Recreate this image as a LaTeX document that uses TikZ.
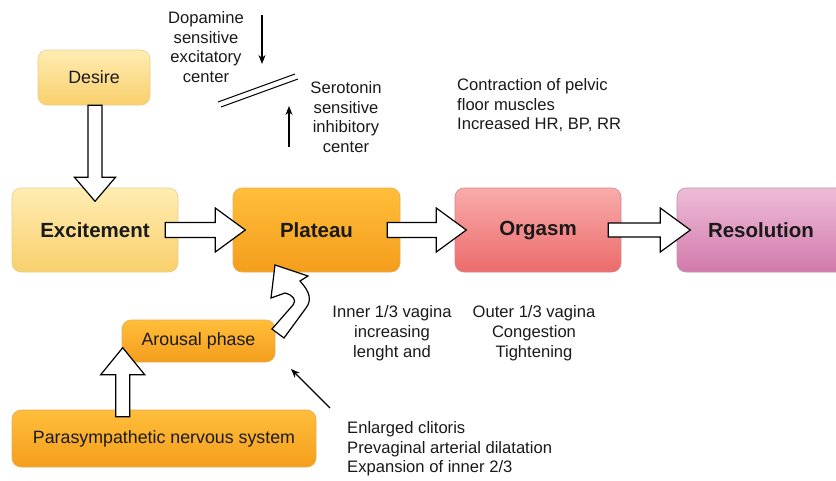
\documentclass[tikz,border=0pt]{standalone}
\usepackage{fontspec}
\setmainfont{Liberation Sans}
\usetikzlibrary{arrows.meta,calc}
\definecolor{txt}{HTML}{1A1A1A}
\tikzset{
  phase/.style={rounded corners=9pt, draw=#1, line width=0.6pt, inner sep=0pt, text=txt},
  yel/.style={phase=yelB, top color=yelT, bottom color=yelM},
  org/.style={phase=orgB, top color=orgT, bottom color=orgM},
  red/.style={phase=redB, top color=redT, bottom color=redM},
  pur/.style={phase=purB, top color=purT, bottom color=purM},
  big/.style={font=\fontsize{20.5}{23}\selectfont\bfseries},
  reg/.style={font=\fontsize{17.8}{20}\selectfont},
  small/.style={font=\fontsize{16.6}{19.8}\selectfont, text=txt, inner sep=0pt},
  blkline/.style={draw=black, fill=white, line width=1.2pt, line join=miter},
  thin/.style={-{Stealth[length=9pt,width=7pt]}, line width=1.1pt, black},
}
% #1 start, #2 angle, #3 length, #4 shaft half width, #5 head half width, #6 head length
\newcommand{\blockarrow}[6]{%
  \draw[blkline, shift={#1}, rotate=#2]
    (0,-#4) -- ({#3-#6},-#4) -- ({#3-#6},-#5) -- (#3,0) -- ({#3-#6},#5) -- ({#3-#6},#4) -- (0,#4) -- cycle;}
\definecolor{yelT}{HTML}{FFEDB3}\definecolor{yelM}{HTML}{F8CF6C}\definecolor{yelB}{HTML}{E9CF8E}
\definecolor{orgT}{HTML}{FFBE3A}\definecolor{orgM}{HTML}{F49E1C}\definecolor{orgB}{HTML}{E3AE5A}
\definecolor{redT}{HTML}{F8ABAA}\definecolor{redM}{HTML}{EC6B6B}\definecolor{redB}{HTML}{CF8A8A}
\definecolor{purT}{HTML}{EDBCD7}\definecolor{purM}{HTML}{D27AAB}\definecolor{purB}{HTML}{B895AA}
\begin{document}
\begin{tikzpicture}[x=1pt,y=-1pt]
\useasboundingbox[fill=white] (0,0) rectangle (836,480);
% boxes
\node[yel, reg, minimum width=112pt, minimum height=55pt] (desire) at (94,77.5) {Desire};
\node[yel, big, minimum width=166pt, minimum height=84pt] (exc) at (95,230) {Excitement};
\node[org, big, minimum width=167pt, minimum height=84pt] (pla) at (316.5,230) {Plateau};
\node[red, big, minimum width=166pt, minimum height=84pt] (orgm) at (538,230) {Orgasm\vphantom{l}};
\node[pur, big, minimum width=168pt, minimum height=84pt] (res) at (761,230) {Resolution};
\node[org, reg, minimum width=153pt, minimum height=42pt] (arousal) at (198.5,341) {Arousal phase};
\node[org, reg, minimum width=304pt, minimum height=57pt] (para) at (164,438.5) {Parasympathetic nervous system};
% block arrows
\blockarrow{($(desire.south)+(1,0)$)}{-90}{96}{7}{20.5}{24}
\blockarrow{($(exc.east)+(-13,0)$)}{0}{80}{7.5}{22}{30}
\blockarrow{($(pla.east)+(-13,0)$)}{0}{79}{7.5}{22}{30}
\blockarrow{($(orgm.east)+(-13,0)$)}{0}{82}{7}{22}{30}
\blockarrow{($(para.north west)+(111,7)$)}{90}{69}{7}{22}{27}
% curved block arrow from arousal to plateau
\draw[blkline]
  (275,265) -- (308,276) -- (300,281) .. controls (310,292) and (312,300) .. (306,308)
  -- (284,338) -- (272,329) -- (293,305) .. controls (297,300) and (293,295) .. (285,293)
  -- (271,298) -- cycle;
% texts
\node[small, align=center] (dop) at (206,47) {Dopamine\\sensitive\\excitatory\\center};
\node[small, align=center] (ser) at (346,117) {Serotonin\\sensitive\\inhibitory\\center};
\node[small, align=left, anchor=north west] (con) at (457,78) {Contraction of pelvic\\floor muscles\\Increased HR, BP, RR};
\node[small, align=center] (inner) at (392,333) {Inner 1/3 vagina\\increasing\\lenght and};
\node[small, align=center] (outer) at (534,333) {Outer 1/3 vagina\\Congestion\\Tightening};
\node[small, align=left, anchor=north west] (enl) at (347,421) {Enlarged clitoris\\Prevaginal arterial dilatation\\Expansion of inner 2/3};
% inhibitory / excitatory symbol
\coordinate (d1) at (218,102); \coordinate (d2) at (295,74);
\coordinate (e1) at (221,107); \coordinate (e2) at (298,79);
\draw[line width=1pt] (d1) -- (d2);
\draw[line width=1pt] (e1) -- (e2);
\coordinate (dt) at (262,15); \coordinate (dh) at (262,64);
\draw[thin] (dt) -- (dh);
\coordinate (st) at (289,147); \coordinate (sh) at (289,106);
\draw[thin] (st) -- (sh);
\coordinate (et) at (330,408); \coordinate (eh) at (291,369);
\draw[thin] (et) -- (eh);
\end{tikzpicture}
\end{document}
